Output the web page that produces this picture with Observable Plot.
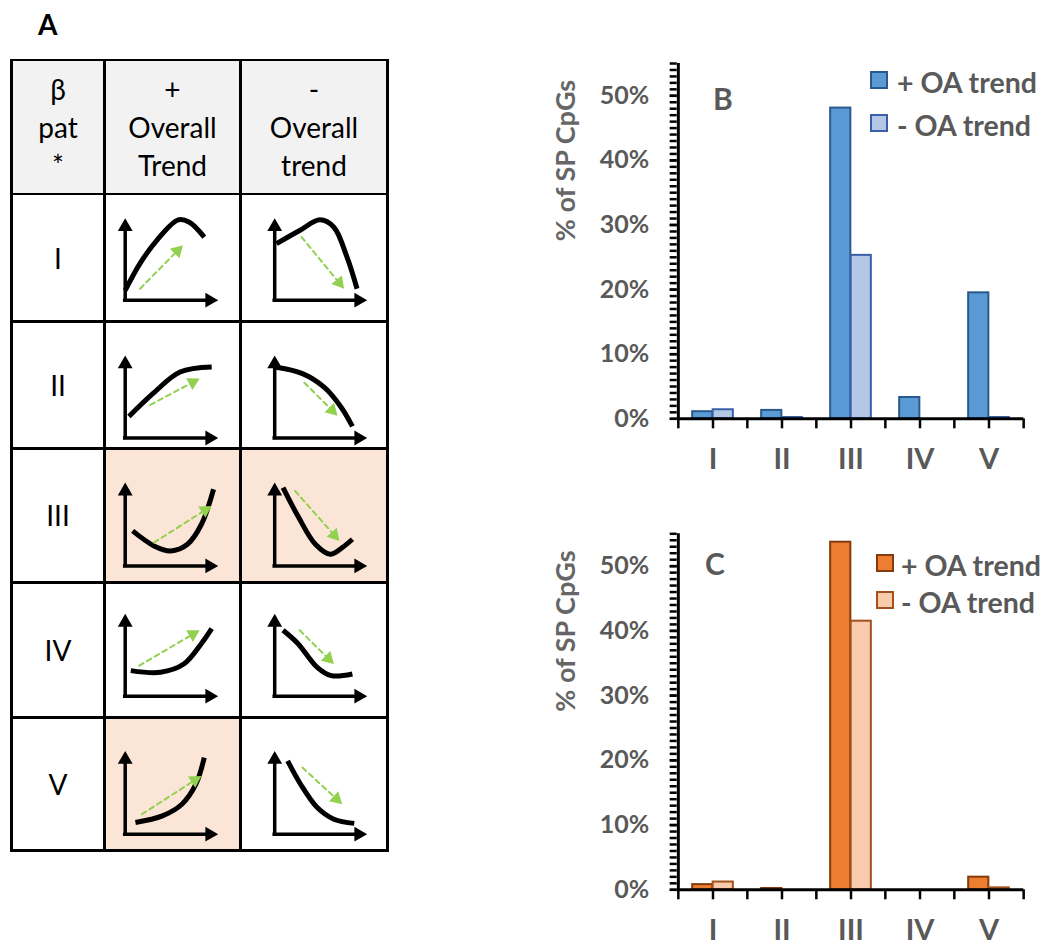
<!DOCTYPE html>
<html><head><meta charset="utf-8">
<script src="https://cdn.jsdelivr.net/npm/d3@7"></script>
<script src="https://cdn.jsdelivr.net/npm/@observablehq/plot@0.6"></script>
<style>
html,body{margin:0;padding:0;background:#fff;}
#root{position:relative;width:1047px;height:943px;overflow:hidden;font-family:Lato,"Open Sans",sans-serif;background:#fff;}
.abs{position:absolute;}
.lbl{position:absolute;font-weight:700;line-height:1em;white-space:nowrap;color:#595959;}
#table{position:absolute;display:grid;background:#000;}
.cell{background:#fff;display:flex;align-items:center;justify-content:center;text-align:center;font-size:28px;line-height:38px;color:#000;position:relative;overflow:visible;}
.cell svg{position:absolute;left:0;top:0;}
.sq{position:absolute;width:18px;height:18px;box-sizing:border-box;border:2px solid;}
</style></head><body><div id="root"></div>
<script>
// ---------- data: panels B and C ----------
const categories = ["I", "II", "III", "IV", "V"];
const seriesLabels = ["+ OA trend", "- OA trend"];
const yTicks = [0, 10, 20, 30, 40, 50];
const yLabel = "% of SP CpGs";
const panelBPlus  = [1.1, 1.3, 48.1, 3.3, 19.5];
const panelBMinus = [1.4, 0.2, 25.3, 0.0, 0.2];
const panelCPlus  = [0.8, 0.2, 53.7, 0.0, 1.95];
const panelCMinus = [1.2, 0.0, 41.5, 0.0, 0.3];

// ---------- data: panel A table ----------
const headerCol0 = ["β", "pat", "*"];
const headerCol1 = ["+", "Overall", "Trend"];
const headerCol2 = ["-", "Overall", "trend"];
const highlighted = ["III+", "III-", "V+"];
// schematic curves (x: along time axis, y: beta), 0..1 of each sketch's axes
const curveIPlus    = [[0,0.12],[0.16,0.45],[0.34,0.73],[0.57,0.98],[0.69,0.95],[0.85,0.77]];
const curveIMinus   = [[0.02,0.69],[0.27,0.85],[0.49,0.98],[0.64,0.89],[0.78,0.53],[0.89,0.14]];
const curveIIPlus   = [[0.04,0.26],[0.30,0.54],[0.59,0.80],[0.93,0.86]];
const curveIIMinus  = [[0,0.86],[0.30,0.78],[0.54,0.61],[0.72,0.37],[0.84,0.14]];
const curveIIIPlus  = [[0.08,0.42],[0.31,0.24],[0.49,0.18],[0.67,0.26],[0.82,0.50],[0.95,0.92]];
const curveIIIMinus = [[0.09,0.94],[0.26,0.58],[0.44,0.26],[0.60,0.14],[0.73,0.22],[0.84,0.32]];
const curveIVPlus   = [[0.06,0.31],[0.38,0.29],[0.63,0.39],[0.82,0.64],[0.93,0.82]];
const curveIVMinus  = [[0.09,0.80],[0.25,0.64],[0.46,0.35],[0.61,0.25],[0.84,0.27]];
const curveVPlus    = [[0.11,0.14],[0.40,0.22],[0.61,0.36],[0.76,0.60],[0.85,0.92]];
const curveVMinus   = [[0.14,0.88],[0.28,0.60],[0.46,0.32],[0.64,0.18],[0.86,0.13]];
// overall trend arrows (start, tip)
const trendIPlus    = [[0.16,0.14],[0.62,0.67]];
const trendIMinus   = [[0.29,0.77],[0.75,0.14]];
const trendIIPlus   = [[0.27,0.40],[0.80,0.72]];
const trendIIMinus  = [[0.32,0.67],[0.68,0.27]];
const trendIIIPlus  = [[0.31,0.28],[0.93,0.72]];
const trendIIIMinus = [[0.22,0.90],[0.70,0.30]];
const trendIVPlus   = [[0.15,0.37],[0.80,0.80]];
const trendIVMinus  = [[0.27,0.80],[0.64,0.39]];
const trendVPlus    = [[0.18,0.24],[0.82,0.70]];
const trendVMinus   = [[0.30,0.80],[0.73,0.36]];

const sketchCurves = [[curveIPlus, curveIMinus],[curveIIPlus, curveIIMinus],[curveIIIPlus, curveIIIMinus],[curveIVPlus, curveIVMinus],[curveVPlus, curveVMinus]];
const sketchTrends = [[trendIPlus, trendIMinus],[trendIIPlus, trendIIMinus],[trendIIIPlus, trendIIIMinus],[trendIVPlus, trendIVMinus],[trendVPlus, trendVMinus]];

// ---------- layout / style ----------
const FONT = "Lato, 'Open Sans', sans-serif";
const GRAY = "#595959";
const colW = [90, 133.8, 144];
const rowH = [131.4, 125.1, 124, 131.8, 132, 130.8];
const lineW = 2.6;
const sketchLeft = [18.7, 32.2], sketchRight = [111.7, 124.7];
const sketchTop = [22.7, 32, 32.1, 29.3, 31.4], sketchBase = [104.7, 114.5, 115.4, 111.7, 114.7];
const HEADER_FILL = "#f2f2f2", HIGHLIGHT_FILL = "#fbe5d6";
const TREND_GREEN = "#92d050";

const root = document.getElementById("root");
function addDiv(cls, css, text) {
  const d = document.createElement("div");
  d.className = cls; Object.assign(d.style, css);
  if (text !== undefined) d.textContent = text;
  root.appendChild(d); return d;
}

// ---------- panel A ----------
addDiv("lbl", {left: "38px", top: "10px", fontSize: "28px", color: "#000"}, "A");

const table = addDiv("", {left: (11.7 - lineW/2) + "px", top: (60 - lineW/2) + "px",
  gridTemplateColumns: colW.map(w => w + "px").join(" "),
  gridTemplateRows: rowH.map(h => h + "px").join(" "),
  gap: lineW + "px", padding: lineW + "px"});
table.id = "table";

const tipDist = r => 2 * Math.sqrt(Math.PI * r * r / (3 * Math.sqrt(3)));

function sketch(curve, trend, ci, ri, w, h) {
  const left = sketchLeft[ci], right = sketchRight[ci], top = sketchTop[ri], base = sketchBase[ri];
  const W = right - left, H = base - top;
  const [p0, p1] = trend;
  const ang = Math.atan2((p1[0] - p0[0]) * W, (p1[1] - p0[1]) * H);
  const headR = 5, axisR = 5.5;
  const gd = tipDist(headR);
  const offX = -gd * Math.sin(ang), offY = gd * Math.cos(ang);
  const trendLine = [p0, [p1[0] + offX / W, p1[1] - offY / H]];
  return Plot.plot({
    width: w, height: h,
    marginLeft: left, marginRight: w - right, marginTop: top, marginBottom: h - base,
    x: {domain: [0, 1], axis: null}, y: {domain: [0, 1], axis: null},
    style: {background: "transparent", overflow: "visible"},
    marks: [
      Plot.ruleX([0], {stroke: "#000", strokeWidth: 3.5, insetTop: 6, strokeLinecap: "square"}),
      Plot.ruleY([0], {stroke: "#000", strokeWidth: 3.5, insetRight: 6, strokeLinecap: "square"}),
      Plot.dot([0], {x: null, y: null, frameAnchor: "top-left", symbol: "triangle", r: axisR, fill: "#000", stroke: "none", dy: tipDist(axisR)}),
      Plot.dot([0], {x: null, y: null, frameAnchor: "bottom-right", symbol: "triangle", r: axisR, fill: "#000", stroke: "none", rotate: 90, dx: -tipDist(axisR)}),
      Plot.line(curve, {x: d => d[0], y: d => d[1], curve: "catmull-rom", stroke: "#000", strokeWidth: 5, strokeLinecap: "butt"}),
      Plot.line(trendLine, {x: d => d[0], y: d => d[1], stroke: TREND_GREEN, strokeWidth: 2, strokeDasharray: "5,4"}),
      Plot.dot([p1], {x: d => d[0], y: d => d[1], symbol: "triangle", r: headR, fill: TREND_GREEN, stroke: "none", rotate: ang * 180 / Math.PI, dx: offX, dy: offY})
    ]
  });
}

const headers = [headerCol0, headerCol1, headerCol2];
for (let r = 0; r < 6; r++) {
  for (let c = 0; c < 3; c++) {
    const cell = document.createElement("div");
    cell.className = "cell";
    if (r === 0) {
      cell.style.background = HEADER_FILL;
      cell.innerHTML = headers[c].join("<br>");
    } else if (c === 0) {
      cell.textContent = categories[r - 1];
    } else {
      const key = categories[r - 1] + (c === 1 ? "+" : "-");
      if (highlighted.includes(key)) cell.style.background = HIGHLIGHT_FILL;
      cell.appendChild(sketch(sketchCurves[r - 1][c - 1], sketchTrends[r - 1][c - 1], c - 1, r - 1, colW[c], rowH[r]));
    }
    table.appendChild(cell);
  }
}

// ---------- panels B and C ----------
function barChart({plus, minus, fills, strokes, width, height, mt, mb}) {
  const ml = 136.7, mr = 23.7;
  const bw = (width - ml - mr) / categories.length;
  const barW = 20.5;
  const data = categories.map((c, i) => ({cat: c, plus: plus[i], minus: minus[i]}));
  const tickStyle = {stroke: "#000", strokeWidth: 2.5, label: null};
  return Plot.plot({
    width, height, marginLeft: ml, marginRight: mr, marginTop: mt, marginBottom: mb,
    x: {domain: categories, padding: 0, label: null},
    y: {domain: [0, 55], label: null},
    style: {background: "transparent", fontFamily: FONT},
    marks: [
      Plot.barY(data, {x: "cat", y: "plus", fill: fills[0], stroke: strokes[0], strokeWidth: 2, insetLeft: bw / 2 - barW, insetRight: bw / 2}),
      Plot.barY(data, {x: "cat", y: "minus", fill: fills[1], stroke: strokes[1], strokeWidth: 2, insetLeft: bw / 2, insetRight: bw / 2 - barW}),
      Plot.axisY({ticks: d3.range(0, 56), tickSize: 7, fill: "none", ...tickStyle}),
      Plot.axisY({ticks: yTicks, tickSize: 7, tickPadding: 21, tickFormat: d => d + "%", fontSize: 25, fontWeight: 700, fill: GRAY, ...tickStyle}),
      Plot.axisX({tickSize: 10, tickPadding: 20, fontSize: 29, fontWeight: 700, fill: GRAY, ...tickStyle}),
      Plot.axisX({ticks: categories, tickSize: 10, fill: "none", dx: -bw / 2, ...tickStyle}),
      Plot.axisX({ticks: categories.slice(-1), tickSize: 10, fill: "none", dx: bw / 2, ...tickStyle}),
      Plot.ruleY([0], {stroke: "#000", strokeWidth: 3}),
      Plot.ruleX(categories.slice(0, 1), {dx: -bw / 2, stroke: "#000", strokeWidth: 3}),
      Plot.text([yLabel], {frameAnchor: "left", rotate: -90, dx: -111, fontSize: 27, fontWeight: 700, fill: "#666"})
    ]
  });
}

const blueFills = ["#5b9bd5", "#b4c7e7"], blueStrokes = ["#2a5a8c", "#3a5fa8"];
const orangeFills = ["#ed7d31", "#f8cbad"], orangeStrokes = ["#843c0c", "#a2501c"];

const chartB = barChart({plus: panelBPlus, minus: panelBMinus, fills: blueFills, strokes: blueStrokes, width: 507, height: 440, mt: 23, mb: 61.7});
Object.assign(chartB.style, {position: "absolute", left: "540px", top: "40px"});
root.appendChild(chartB);

const chartC = barChart({plus: panelCPlus, minus: panelCMinus, fills: orangeFills, strokes: orangeStrokes, width: 507, height: 433, mt: 23.3, mb: 53.7});
Object.assign(chartC.style, {position: "absolute", left: "540px", top: "510px"});
root.appendChild(chartC);

// panel letters and legends
addDiv("lbl", {left: "713px", top: "83px", fontSize: "30px"}, "B");
addDiv("lbl", {left: "705px", top: "548px", fontSize: "30px"}, "C");

function legend(x, yTops, fills, strokes, textX) {
  seriesLabels.forEach((s, i) => {
    addDiv("sq", {left: x + "px", top: yTops[i] + "px", background: fills[i], borderColor: strokes[i]});
    addDiv("lbl", {left: textX + "px", top: (yTops[i] - 3) + "px", fontSize: "28.5px"}, s);
  });
}
legend(870, [70.7, 114], blueFills, blueStrokes, 897);
legend(876, [554, 590.7], orangeFills, orangeStrokes, 901);
</script></body></html>
